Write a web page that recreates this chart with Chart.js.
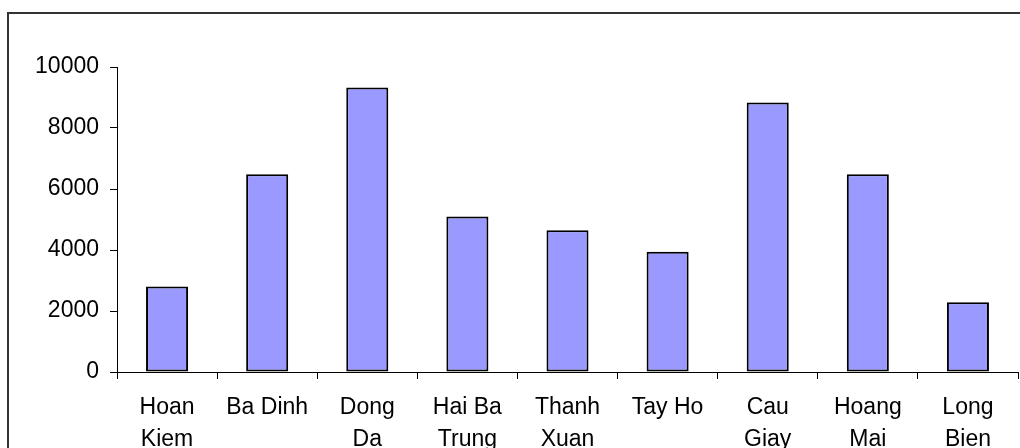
<!DOCTYPE html>
<html>
<head>
<meta charset="utf-8">
<script src="https://cdn.jsdelivr.net/npm/chart.js@4/dist/chart.umd.min.js"></script>
<style>
  html, body { margin: 0; padding: 0; background: #fff; }
  #wrap { width: 1020px; height: 448px; }
</style>
</head>
<body>
<div id="wrap"><canvas id="c" width="1020" height="448"></canvas></div>
<script>
// District names (two-line labels) and their values
const districts = [
  ['Hoan', 'Kiem'], ['Ba Dinh'], ['Dong', 'Da'], ['Hai Ba', 'Trung'],
  ['Thanh', 'Xuan'], ['Tay Ho'], ['Cau', 'Giay'], ['Hoang', 'Mai'], ['Long', 'Bien']
];
const values = [2800, 6480, 9330, 5100, 4650, 3940, 8840, 6480, 2290];
const yTicks = [0, 2000, 4000, 6000, 8000, 10000];

const FONT = { family: '"Liberation Sans", Arial, sans-serif', size: 23 };

// Outer frame around the chart, partly running off the canvas edge
const framePlugin = {
  id: 'frame',
  afterDraw(chart) {
    const ctx = chart.ctx;
    ctx.save();
    ctx.strokeStyle = '#333';
    ctx.lineWidth = 2;
    ctx.strokeRect(8, 13, 1040, 480);
    ctx.restore();
  }
};

new Chart(document.getElementById('c'), {
  type: 'bar',
  data: {
    labels: districts,
    datasets: [{
      data: values,
      backgroundColor: '#9999FF',
      borderColor: '#000',
      borderWidth: 2,
      borderSkipped: false,
      barPercentage: 0.42,
      categoryPercentage: 1.0
    }]
  },
  options: {
    responsive: false,
    animation: false,
    layout: { padding: { top: 67, right: 2, left: 0, bottom: 0 } },
    plugins: { legend: { display: false }, tooltip: { enabled: false } },
    scales: {
      x: {
        grid: {
          offset: true,
          drawOnChartArea: false,
          drawTicks: true,
          tickLength: 7,
          color: '#000'
        },
        border: { color: '#000', width: 1 },
        ticks: {
          color: '#000',
          font: { ...FONT, lineHeight: 1.37 },
          padding: 13,
          maxRotation: 0,
          autoSkip: false
        },
        afterFit(scale) { scale.height = 76; }
      },
      y: {
        min: 0,
        max: 10000,
        afterBuildTicks(scale) { scale.ticks = yTicks.map(v => ({ value: v })); },
        grid: {
          drawOnChartArea: false,
          drawTicks: true,
          tickLength: 7,
          color: '#000'
        },
        border: { color: '#000', width: 1 },
        ticks: {
          color: '#000',
          font: FONT,
          padding: 11,
          callback: v => String(v)
        },
        afterFit(scale) { scale.width = 117; }
      }
    }
  },
  plugins: [framePlugin]
});
</script>
</body>
</html>
